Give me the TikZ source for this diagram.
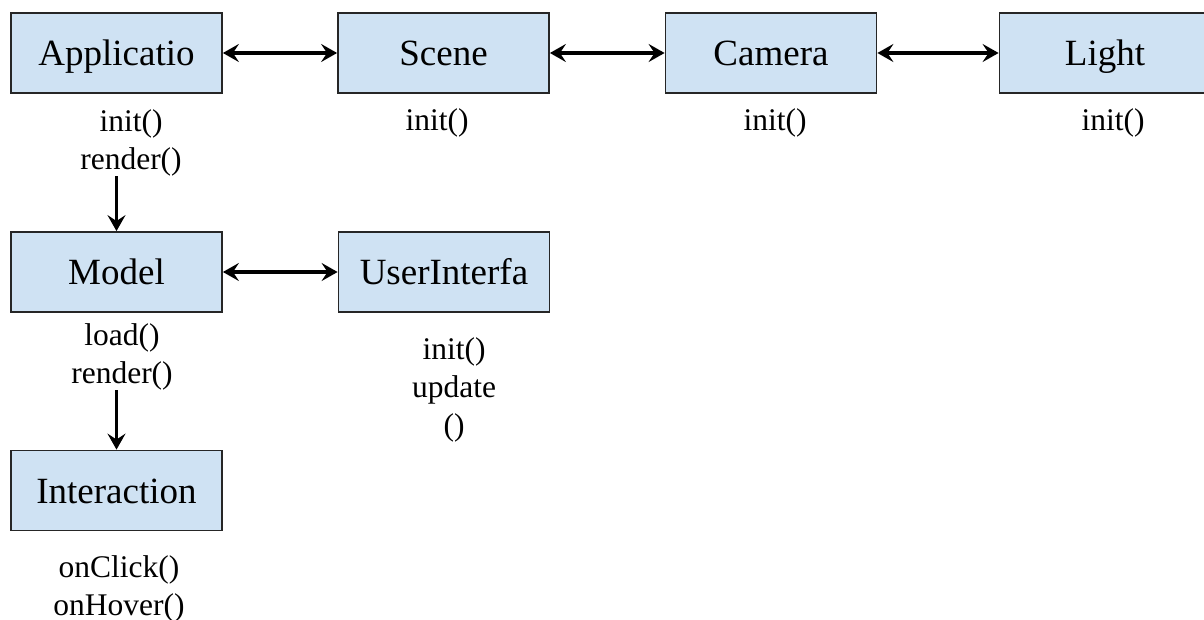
\documentclass[tikz,border=0pt]{standalone}
\usepackage{fontspec}
\setmainfont{Liberation Serif}
\usetikzlibrary{arrows.meta}
\definecolor{boxblue}{RGB}{207,226,243}

\begin{document}
\begin{tikzpicture}[x=1pt,y=-1pt,
  every node/.style={font=\fontsize{31.5}{38}\selectfont,inner sep=0pt},
  cls/.style={draw=black!85,line width=1.8pt,fill=boxblue,minimum width=211pt,minimum height=80pt,
    text height=33pt,text depth=8pt,font=\fontsize{37}{44}\selectfont},
  meth/.style={align=center},
  link/.style={line width=3.4pt,{Stealth[length=16pt,width=18pt,inset=6pt]}-{Stealth[length=16pt,width=18pt,inset=6pt]}},
  flow/.style={line width=3.4pt,-{Stealth[length=16pt,width=18pt,inset=6pt]}}]
  \useasboundingbox (0,0) rectangle (1204,620);
  \clip (0,0) rectangle (1204,620);
  % classes
  \node[cls] (app) at (116.5,53) {Applicatio};
  \node[cls] (scene) at (443.5,53) {Scene};
  \node[cls] (camera) at (771,53) {Camera};
  \node[cls] (light) at (1105,53) {Light};
  \node[cls] (model) at (116.5,272) {Model};
  \node[cls] (ui) at (444,272) {UserInterfa};
  \node[cls] (inter) at (116.5,490.5) {Interaction};
  % methods
  \node[meth] (appops) at (131,143) {init()\\render()};
  \node[meth] (sceneops) at (437,123) {init()};
  \node[meth] (cameraops) at (775,123) {init()};
  \node[meth] (lightops) at (1113,123) {init()};
  \node[meth] (modelops) at (122,357) {load()\\render()};
  \node[meth] (uiops) at (454,390) {init()\\update\\()};
  \node[meth] (interops) at (119,588.5) {onClick()\\onHover()};
  % links
  \draw[link] (app) -- (scene);
  \draw[link] (scene) -- (camera);
  \draw[link] (camera) -- (light);
  \draw[link] (model) -- (ui);
  \draw[flow] (appops.south -| app.south) -- (model.north);
  \draw[flow] (modelops.south -| model.south) -- (inter.north);
\end{tikzpicture}
\end{document}
